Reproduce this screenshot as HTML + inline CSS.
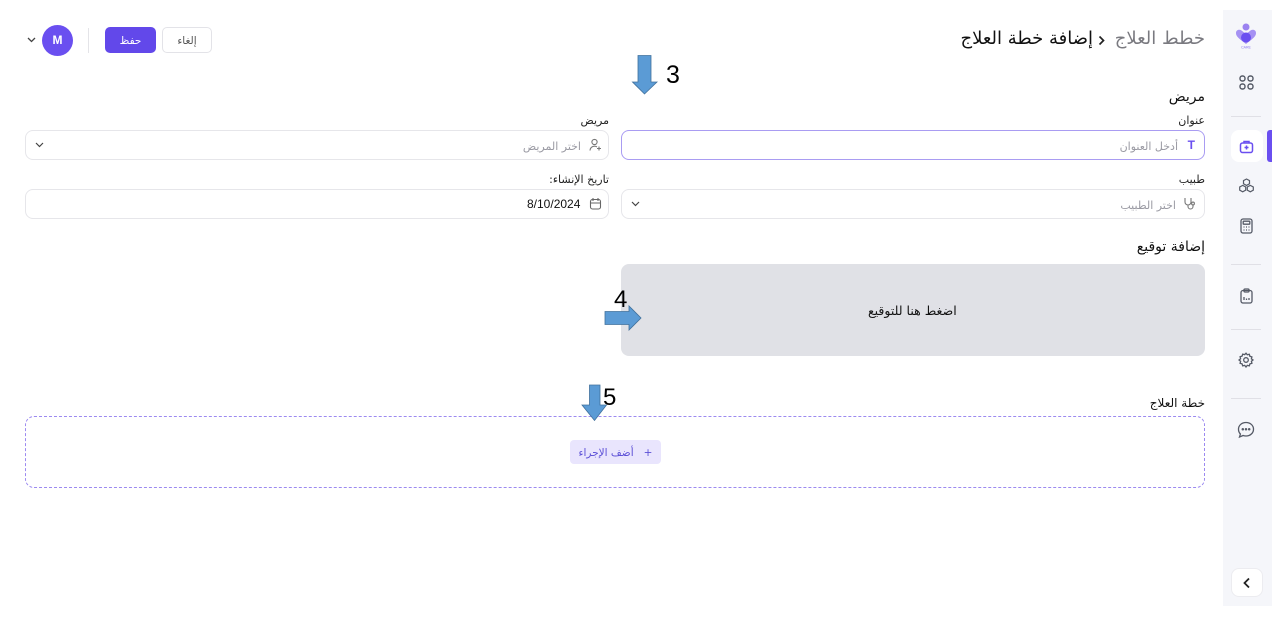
<!DOCTYPE html>
<html><head><meta charset="utf-8"><style>
*{margin:0;padding:0;box-sizing:border-box}
body{width:1277px;height:626px;background:#fff;position:relative;overflow:hidden;font-family:"DejaVu Sans","Liberation Sans",sans-serif;color:#1a1a1a}
.a{position:absolute}
.t{position:absolute;white-space:nowrap;direction:rtl}
.field{position:absolute;border:1px solid #e6e6ea;border-radius:8px;background:#fff}
.lbl{position:absolute;white-space:nowrap;direction:rtl;font-size:11px;color:#222;text-align:right}
.ph{position:absolute;white-space:nowrap;direction:rtl;font-size:10.5px;color:#9a9aa3}
.sb{position:absolute;left:1223px;top:10px;width:49px;height:596px;background:#f5f6fa}
.div{position:absolute;left:1231px;width:30px;height:1px;background:#e0e0e6}
</style></head><body>

<!-- Sidebar -->
<div class="sb"></div>
<div class="a" style="left:1267px;top:130px;width:5px;height:32px;background:#6a4ff0;border-radius:3px 0 0 3px"></div>
<!-- logo -->
<svg class="a" style="left:1234px;top:22px" width="24" height="28" viewBox="0 0 24 28">
<circle cx="12" cy="5" r="3.5" fill="#9b82f0"/>
<path d="M12 22 C4 16 2 14 2 11 C2 8 5 7 7.5 8.5 L12 12 L16.5 8.5 C19 7 22 8 22 11 C22 14 20 16 12 22Z" fill="#a591f3"/>
<circle cx="12" cy="15.5" r="5" fill="#6a4ff0"/>
<text x="12" y="26.5" font-size="3.5" fill="#8a75ee" text-anchor="middle" font-family="Liberation Sans">CARE</text>
</svg>
<!-- grid -->
<svg class="a" style="left:1239px;top:75px" width="15" height="15" viewBox="0 0 15 15" fill="none" stroke="#555a66" stroke-width="1.4">
<rect x="1" y="1" width="5" height="5" rx="2.2"/><rect x="9" y="1" width="5" height="5" rx="2.2"/><rect x="1" y="9" width="5" height="5" rx="2.2"/><rect x="9" y="9" width="5" height="5" rx="2.2"/></svg>
<div class="div" style="top:116px"></div>
<div class="a" style="left:1231px;top:130px;width:32px;height:32px;background:#fff;border-radius:8px"></div>
<svg class="a" style="left:1239px;top:139px" width="15" height="15" viewBox="0 0 15 15" fill="none" stroke="#6a4ff0" stroke-width="1.5">
<rect x="1.5" y="4" width="12" height="9.5" rx="2"/><path d="M5 4V2.5h5V4"/><path d="M7.5 6.5v4M5.5 8.5h4"/></svg>
<!-- cubes -->
<svg class="a" style="left:1238px;top:178px" width="17" height="16" viewBox="0 0 17 16" fill="none" stroke="#555a66" stroke-width="1.2">
<path d="M8.5 1l3 1.6v3.2l-3 1.6-3-1.6V2.6z"/><path d="M4.7 7.4l3 1.6v3.2l-3 1.6-3-1.6V9z"/><path d="M12.3 7.4l3 1.6v3.2l-3 1.6-3-1.6V9z"/></svg>
<!-- calculator -->
<svg class="a" style="left:1240px;top:218px" width="13" height="16" viewBox="0 0 13 16" fill="none" stroke="#555a66" stroke-width="1.3">
<rect x="1" y="1" width="11" height="14" rx="2"/><rect x="3.2" y="3.2" width="6.6" height="3" rx=".6"/><path d="M3.5 9h1M6 9h1M8.5 9h1M3.5 12h1M6 12h1M8.5 12h1"/></svg>
<div class="div" style="top:264px"></div>
<!-- clipboard -->
<svg class="a" style="left:1240px;top:288px" width="13" height="16" viewBox="0 0 13 16" fill="none" stroke="#555a66" stroke-width="1.3">
<rect x="1" y="2.5" width="11" height="12.5" rx="2"/><rect x="4" y="1" width="5" height="3" rx="1"/><path d="M4 12V9M6.5 12v-1.5M9 12v-2"/></svg>
<div class="div" style="top:329px"></div>
<!-- gear -->
<svg class="a" style="left:1238px;top:352px" width="16" height="16" viewBox="0 0 16 16" fill="none" stroke="#555a66" stroke-width="1.3">
<circle cx="8" cy="8" r="2.3"/><path d="M8 1.2l1.3 1.6 2-.5.6 2 2 .6-.5 2L15 8l-1.6 1.3.5 2-2 .6-.6 2-2-.5L8 15l-1.3-1.6-2 .5-.6-2-2-.6.5-2L1 8l1.6-1.3-.5-2 2-.6.6-2 2 .5z"/></svg>
<div class="div" style="top:398px"></div>
<!-- chat -->
<svg class="a" style="left:1237px;top:421px" width="18" height="18" viewBox="0 0 18 18" fill="none" stroke="#555a66" stroke-width="1.3">
<path d="M9 1.5c4.3 0 7.5 2.9 7.5 6.7S13.3 15 9 15c-1 0-2-.2-2.9-.5L2.5 16l.9-3C2.2 11.8 1.5 10 1.5 8.2 1.5 4.4 4.7 1.5 9 1.5z"/>
<circle cx="5.8" cy="8.3" r=".6" fill="#555a66"/><circle cx="9" cy="8.3" r=".6" fill="#555a66"/><circle cx="12.2" cy="8.3" r=".6" fill="#555a66"/></svg>
<div class="a" style="left:1231px;top:568px;width:32px;height:29px;background:#fff;border:1px solid #ececf0;border-radius:8px"></div>
<svg class="a" style="left:1242px;top:577px" width="10" height="12" viewBox="0 0 10 12" fill="none" stroke="#222" stroke-width="1.8"><path d="M7 1.5L2.5 6 7 10.5"/></svg>

<!-- Header left -->
<svg class="a" style="left:27px;top:37px" width="9" height="6" viewBox="0 0 9 6" fill="none" stroke="#444" stroke-width="1.3"><path d="M1 1l3.5 3.5L8 1"/></svg>
<div class="a" style="left:42px;top:25px;width:31px;height:31px;border-radius:50%;background:#6a4ff0;color:#fff;font:bold 12px 'Liberation Sans',sans-serif;text-align:center;line-height:31px">M</div>
<div class="a" style="left:88px;top:28px;width:1px;height:25px;background:#e4e4e8"></div>
<div class="a" style="left:105px;top:27px;width:51px;height:26px;border-radius:5px;background:#6248ea;color:#fff;font-size:10.5px;text-align:center;line-height:28px;direction:rtl">حفظ</div>
<div class="a" style="left:162px;top:27px;width:50px;height:26px;border-radius:5px;background:#fff;border:1px solid #e3e3e8;color:#555;font-size:10.5px;text-align:center;line-height:26px;direction:rtl">إلغاء</div>

<!-- Breadcrumb -->
<div class="t" style="right:72px;top:28px;font-size:18px;color:#7a7a80">خطط العلاج</div>
<svg class="a" style="left:1098px;top:35px" width="8" height="11" viewBox="0 0 8 11" fill="none" stroke="#222" stroke-width="1.7"><path d="M1.5 1.5L5.5 5.5 1.5 9.5"/></svg>
<div class="t" style="right:184px;top:28px;font-size:18px;color:#111">إضافة خطة العلاج</div>

<!-- Section مريض -->
<div class="t" style="right:72px;top:89px;font-size:14px;color:#111">مريض</div>
<div class="lbl" style="right:72px;top:114px">عنوان</div>
<div class="field" style="left:621px;top:130px;width:584px;height:30px;border-color:#a99cf2"></div>
<div class="t" style="right:82px;top:138px;font:bold 12px 'Liberation Sans',sans-serif;color:#6a4ff0">T</div>
<div class="ph" style="right:99px;top:140px;font-size:11px">أدخل العنوان</div>

<div class="lbl" style="right:668px;top:114px">مريض</div>
<div class="field" style="left:25px;top:130px;width:584px;height:30px"></div>
<svg class="a" style="left:589px;top:138px" width="13" height="14" viewBox="0 0 13 14" fill="none" stroke="#777" stroke-width="1.1"><circle cx="5.5" cy="4" r="2.6"/><path d="M1 12.5c0-2.5 2-4.3 4.5-4.3 1 0 1.8.2 2.5.7M10 8.5v4M8 10.5h4"/></svg>
<div class="ph" style="right:696px;top:140px;font-size:11px">اختر المريض</div>
<svg class="a" style="left:35px;top:142px" width="9" height="6" viewBox="0 0 9 6" fill="none" stroke="#444" stroke-width="1.2"><path d="M1 1l3.5 3.5L8 1"/></svg>

<div class="lbl" style="right:72px;top:173px">طبيب</div>
<div class="field" style="left:621px;top:189px;width:584px;height:30px"></div>
<svg class="a" style="left:1183px;top:197px" width="13" height="13" viewBox="0 0 13 13" fill="none" stroke="#777" stroke-width="1.1"><path d="M2 1v4a3 3 0 006 0V1M5 8v1.5a2.5 2.5 0 005 0V8"/><circle cx="10" cy="6.5" r="1.4"/></svg>
<div class="ph" style="right:101px;top:199px;font-size:11px">اختر الطبيب</div>
<svg class="a" style="left:631px;top:201px" width="9" height="6" viewBox="0 0 9 6" fill="none" stroke="#444" stroke-width="1.2"><path d="M1 1l3.5 3.5L8 1"/></svg>

<div class="lbl" style="right:668px;top:173px">تاريخ الإنشاء:</div>
<div class="field" style="left:25px;top:189px;width:584px;height:30px"></div>
<svg class="a" style="left:589px;top:197px" width="13" height="13" viewBox="0 0 13 13" fill="none" stroke="#666" stroke-width="1.1"><rect x="1.5" y="2.5" width="10" height="9.5" rx="2"/><path d="M4 1v3M9 1v3M1.5 6h10"/></svg>
<div class="a" style="left:527px;top:197px;font:12px 'Liberation Sans',sans-serif;color:#111">8/10/2024</div>

<!-- Signature -->
<div class="t" style="right:72px;top:239px;font-size:14px;color:#111">إضافة توقيع</div>
<div class="a" style="left:621px;top:264px;width:584px;height:92px;background:#e0e1e6;border-radius:8px"></div>
<div class="t" style="left:868px;top:303px;font-size:12.5px;color:#111">اضغط هنا للتوقيع</div>

<!-- Treatment plan -->
<div class="t" style="right:72px;top:396px;font-size:12px;color:#111">خطة العلاج</div>
<div class="a" style="left:25px;top:416px;width:1180px;height:72px;border:1.3px dashed #9c8af0;border-radius:9px"></div>
<div class="a" style="left:570px;top:440px;width:91px;height:24px;background:#e9e5fd;border-radius:4px;color:#5b4fd6;font-size:10.5px;text-align:center;line-height:26px;direction:rtl">+&nbsp;&nbsp; أضف الإجراء</div>

<!-- Arrows -->
<svg class="a" style="left:0;top:0" width="1277" height="626">
<path d="M638 55.5H651V82H657L644.5 94L632.5 82H638Z" fill="#5b9bd5" stroke="#41719c" stroke-width="0.8"/>
<path d="M605 311.5H629V306L641 318L629 330V324.5H605Z" fill="#5b9bd5" stroke="#41719c" stroke-width="0.8"/>
<path d="M589.5 385H600V405H606.5L594.5 420.5L582 405H589.5Z" fill="#5b9bd5" stroke="#41719c" stroke-width="0.8"/>
<text x="666" y="83" font-family="Liberation Sans" font-size="25" fill="#000">3</text>
<text x="614" y="307" font-family="Liberation Sans" font-size="24" fill="#000">4</text>
<text x="603" y="405" font-family="Liberation Sans" font-size="24" fill="#000">5</text>
</svg>

</body></html>
